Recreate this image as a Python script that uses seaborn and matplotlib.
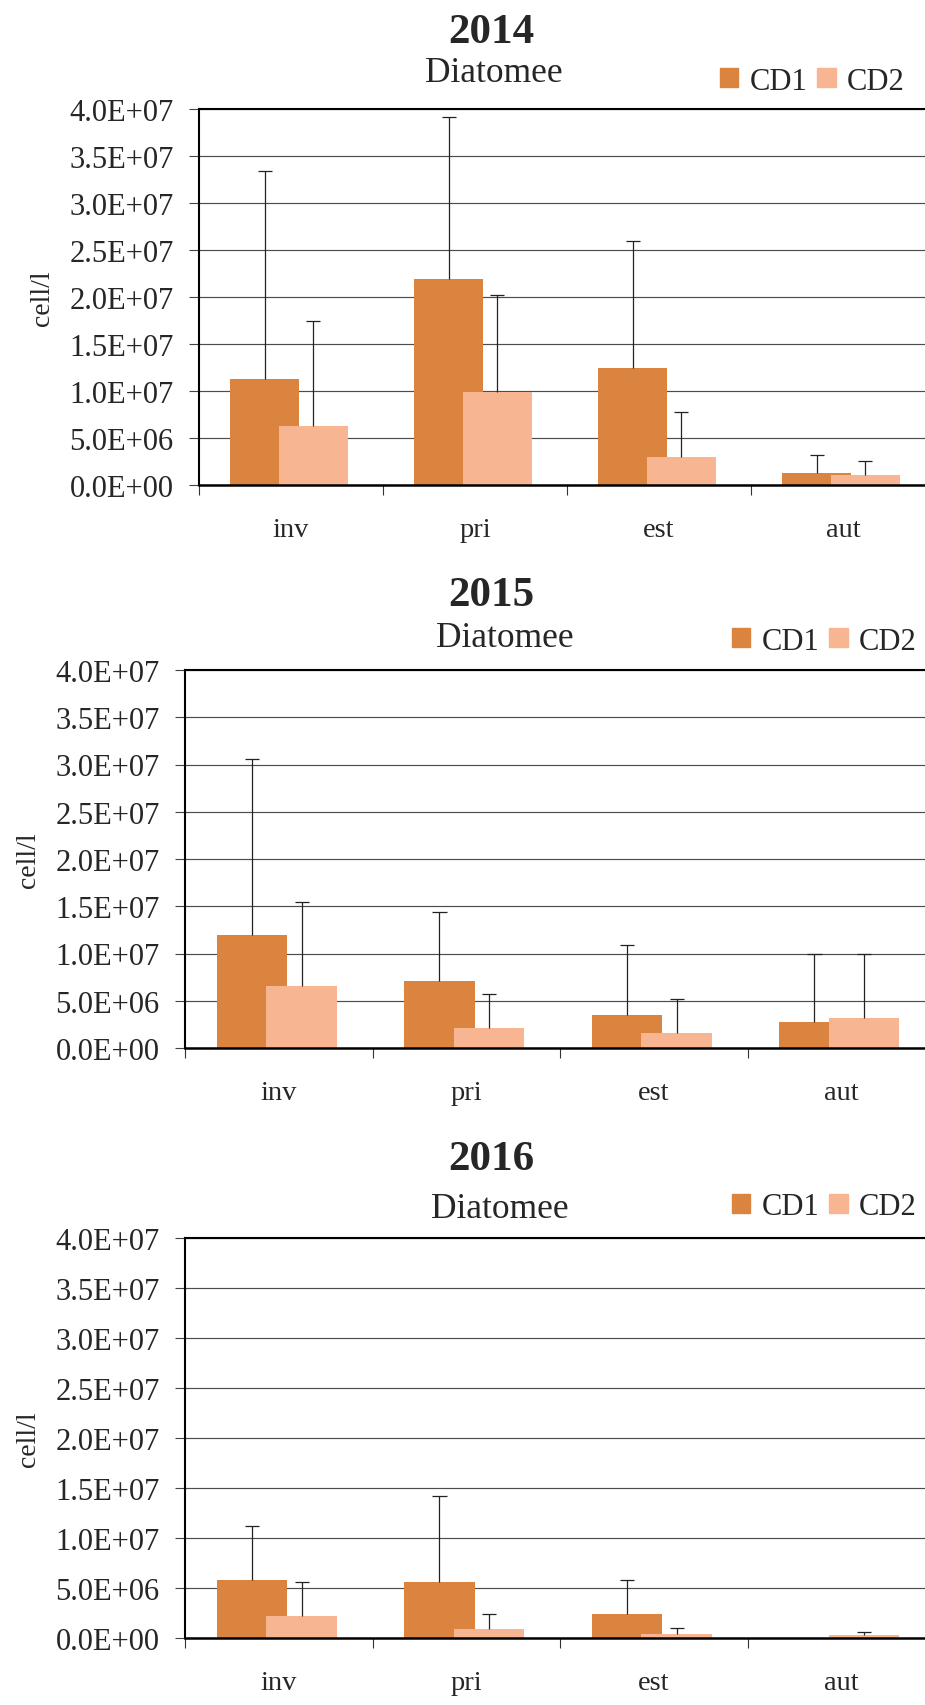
import numpy as np
import matplotlib
matplotlib.use("Agg")
import matplotlib.pyplot as plt
from matplotlib.patches import Patch
from matplotlib.ticker import FuncFormatter
import seaborn as sns

seasons = ["inv", "pri", "est", "aut"]
years = ["2014", "2015", "2016"]

# means and upper error (sd) in cell/l
cd1_2014 = [1.13e7, 2.19e7, 1.24e7, 1.25e6]
cd1_2014_sd = [2.21e7, 1.72e7, 1.36e7, 1.95e6]
cd2_2014 = [6.26e6, 9.9e6, 3.03e6, 1.02e6]
cd2_2014_sd = [1.114e7, 1.03e7, 4.77e6, 1.58e6]

cd1_2015 = [1.20e7, 7.1e6, 3.5e6, 2.77e6]
cd1_2015_sd = [1.86e7, 7.3e6, 7.4e6, 7.23e6]
cd2_2015 = [6.6e6, 2.16e6, 1.63e6, 3.22e6]
cd2_2015_sd = [8.8e6, 3.6e6, 3.52e6, 6.78e6]

cd1_2016 = [5.83e6, 5.6e6, 2.43e6, 0.0]
cd1_2016_sd = [5.37e6, 8.6e6, 3.37e6, np.nan]
cd2_2016 = [2.23e6, 0.86e6, 0.43e6, 0.33e6]
cd2_2016_sd = [3.37e6, 1.5e6, 0.57e6, 0.27e6]

C1 = "#DA8440"
C2 = "#F8B591"

sns.set_theme(style="white")
plt.rcParams["font.family"] = ["Liberation Serif", "DejaVu Serif"]

W, H = 925, 1706
fig = plt.figure(figsize=(W / 100, H / 100), dpi=100)


def px_rect(l, t, r, b):
    return [l / W, 1 - b / H, (r - l) / W, (b - t) / H]


# pixel layout: axes box, title baseline, subtitle centre x / baseline, legend anchor
layout = [
    dict(rect=(199, 110, 935, 486), title_y=43, sub=(494, 82), leg=(720, 82)),
    dict(rect=(185, 671, 935, 1049), title_y=606, sub=(505, 647), leg=(732, 642)),
    dict(rect=(185, 1239, 935, 1639), title_y=1170, sub=(499.5, 1218), leg=(732, 1208)),
]
data = [
    (cd1_2014, cd1_2014_sd, cd2_2014, cd2_2014_sd),
    (cd1_2015, cd1_2015_sd, cd2_2015, cd2_2015_sd),
    (cd1_2016, cd1_2016_sd, cd2_2016, cd2_2016_sd),
]

x = np.arange(len(seasons))
off1, off2, bw, cap = -0.143, 0.122, 0.376, 0.038

for year, lay, (m1, s1, m2, s2) in zip(years, layout, data):
    ax = fig.add_axes(px_rect(*lay["rect"]))
    m1, s1, m2, s2 = map(np.array, (m1, s1, m2, s2))

    sns.barplot(x=x + off1, y=m1, native_scale=True, orient="x", width=bw,
                color=C1, saturation=1, errorbar=None, ax=ax, zorder=2,
                linewidth=0, edgecolor="none")
    sns.barplot(x=x + off2, y=m2, native_scale=True, orient="x", width=bw,
                color=C2, saturation=1, errorbar=None, ax=ax, zorder=2,
                linewidth=0, edgecolor="none")

    # plus-only error bars
    for xo, m, s in ((off1, m1, s1), (off2, m2, s2)):
        ax.vlines(x + xo, m, m + s, color="#222222", lw=0.9, zorder=3)
        ax.hlines(m + s, x + xo - cap, x + xo + cap, color="#222222", lw=0.9, zorder=3)

    ax.set_xlim(-0.5, 3.5)
    ax.set_ylim(0, 4e7)
    ax.set_xticks(x)
    ax.set_xticklabels(seasons)
    ax.set_xticks(np.arange(-0.5, 3.6, 1), minor=True)
    ax.tick_params(axis="x", which="major", length=0, pad=23, labelsize=20.5)
    ax.tick_params(axis="x", which="minor", bottom=True, length=7.2, width=0.8,
                   color="#333333", direction="out")
    ax.set_yticks(np.arange(0, 4.01e7, 5e6))
    ax.yaxis.set_major_formatter(FuncFormatter(lambda v, _: f"{v:.1E}"))
    ax.tick_params(axis="y", left=True, length=7.2, width=0.8, color="#444444",
                   direction="out", pad=11, labelsize=22)

    ax.yaxis.grid(True, color="#4d4d4d", linewidth=0.85)
    ax.xaxis.grid(False)
    ax.set_axisbelow(True)
    for side, lw in (("left", 1.5), ("bottom", 1.8), ("top", 1.5)):
        ax.spines[side].set_color("black")
        ax.spines[side].set_linewidth(lw)
    ax.spines["right"].set_visible(False)

    ax.set_xlabel("")
    ax.set_ylabel("cell/l", fontsize=20, labelpad=10)

    fig.text(491 / W, 1 - lay["title_y"] / H, year, ha="center", va="baseline",
             fontsize=31, fontweight="bold")
    sx, sy = lay["sub"]
    fig.text(sx / W, 1 - sy / H, "Diatomee", ha="center", va="baseline", fontsize=25.5)

    lx, ly = lay["leg"]
    handles = [Patch(color=C1, label="CD1"), Patch(color=C2, label="CD2")]
    ax.legend(handles=handles, ncol=2, loc="center left",
              bbox_to_anchor=(lx / W, 1 - ly / H), bbox_transform=fig.transFigure,
              frameon=False, fontsize=22, handlelength=0.6, handleheight=0.6,
              handletextpad=0.36, columnspacing=0.33, borderpad=0, borderaxespad=0)

fig.savefig("out.png", dpi=100)
